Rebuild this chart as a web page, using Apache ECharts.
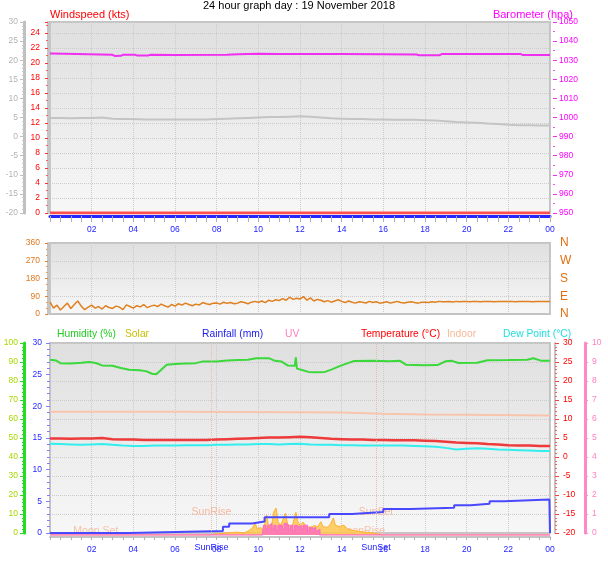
<!DOCTYPE html>
<html><head><meta charset="utf-8">
<script src="https://cdn.jsdelivr.net/npm/echarts@6/dist/echarts.min.js"></script>
<style>html,body{margin:0;padding:0;background:#fff}#c{width:608px;height:561px}</style>
</head><body><div id="c"></div>
<script>
// ---------- DATA ----------
const windSpeed = [0,0,0,0,0,0,0,0,0,0,0,0,0,0,0,0,0,0,0,0,0,0,0,0,0]; // hourly, kts
// outdoor temperature every 30 min (°C)
const temperature = [4.9,4.9,4.8,4.9,4.9,5.0,4.7,4.6,4.6,4.5,4.5,4.5,4.5,4.5,4.5,4.5,4.6,4.7,4.8,4.9,5.0,5.1,5.1,5.2,5.3,5.2,5.0,4.8,4.7,4.6,4.6,4.5,4.5,4.4,4.4,4.4,4.3,4.2,4.0,3.8,3.7,3.6,3.4,3.3,3.1,3.0,3.0,2.9,2.9];
// dew point every 30 min (°C)
const dewPoint = [3.5,3.4,3.3,3.2,3.3,3.4,3.2,3.0,2.9,2.9,3.0,3.0,3.0,3.1,3.1,3.1,3.2,3.2,3.3,3.3,3.4,3.4,3.3,3.4,3.5,3.3,3.2,3.2,3.1,3.1,3.0,3.0,3.0,3.0,3.0,2.9,2.8,2.7,2.4,2.0,2.2,2.3,2.2,2.0,1.9,1.8,1.7,1.6,1.6];
// barometer [hour, hPa]
const barometer = [[0,1033.5],[0.7,1033.4],[0.75,1032.8],[3.0,1032.8],[3.1,1032.2],[3.4,1032.3],[3.5,1032.8],[4.1,1032.8],[4.2,1032.4],[4.7,1032.4],[4.8,1032.8],[6,1032.7],[8.5,1032.8],[9,1033.1],[10,1033.4],[11,1033.3],[12,1033.2],[14,1033.2],[16,1033.1],[17.6,1033.0],[17.7,1032.6],[18.7,1032.6],[18.8,1033.2],[22.6,1033.2],[22.7,1032.7],[24,1032.7]];
// wind direction every 10 min (degrees)
const windDir = [
 62,30,45,20,38,55, 28,48,66,40,22,35, 45,30,38,25,42,33, 28,40,35,22,46,38,
 30,42,36,48,32,40, 45,38,50,42,35,48, 40,52,45,55,48,42, 50,46,58,52,48,55,
 56,50,60,54,58,52, 55,62,58,52,60,64, 60,66,58,70,64,72, 68,78,70,85,74,80,
 76,88,70,82,66,74, 70,62,68,60,66,72, 64,58,66,60,55,62, 60,56,64,58,62,55,
 58,62,55,60,64,58, 56,60,62,58,55,60, 60,58,62,60,64,62, 62,63,61,64,62,63,
 63,62,64,63,62,63, 64,63,62,63,64,63, 63,64,62,63,63,64, 63,62,63,64,63,63, 63];
// humidity [hour, %]
const humidity = [[0,91.2],[0.3,90.8],[0.5,89.4],[1,89.2],[1.5,89.6],[1.9,90.0],[2.2,89.5],[2.5,88.2],[3,88.0],[3.4,86.8],[3.8,85.9],[4.3,85.6],[4.6,85.2],[4.9,83.8],[5.1,83.6],[5.3,85.5],[5.6,88.6],[6,89.0],[6.5,89.2],[7,89.4],[7.3,90.2],[8,90.3],[8.5,90.8],[9,91.0],[9.5,91.2],[9.9,92.0],[10.5,92.0],[10.8,90.6],[11.1,90.3],[11.4,88.2],[11.75,88.0],[11.8,92.5],[11.85,86.5],[12.1,85.8],[12.4,84.8],[12.8,84.6],[13.2,84.8],[13.5,86.0],[13.9,87.8],[14.3,89.4],[14.6,90.5],[15.5,90.6],[16.3,90.4],[16.8,90.6],[17.1,88.5],[18,88.3],[18.6,88.4],[19.0,90.4],[19.3,90.6],[19.6,89.5],[20.5,89.6],[21.0,90.9],[22,91.0],[22.9,91.2],[23.2,92.0],[23.6,90.6],[24,90.6]];
// rainfall accumulation [hour, mm]
const rainfall = [[0,0],[3.8,0.3],[8.3,1.0],[8.6,1.5],[9.7,1.8],[10.3,2.5],[13.4,3.0],[14.5,3.3],[16.0,3.8],[17.3,4.0],[19.4,4.4],[20.2,4.6],[21.1,5.0],[21.8,5.3],[23.97,5.3],[24,0]];
// indoor temperature [hour, °C]
const indoor = [[0,11.9],[6,11.9],[12,11.8],[14,11.7],[16,11.4],[18,11.2],[20,11.1],[24,10.9]];
// solar radiation [hour, W/m2]
const solar = [[0,0],[7.7,0],[7.9,5],[8.3,8],[8.6,12],[9.0,15],[9.3,10],[9.5,20],[9.7,35],[9.85,62],[9.95,30],[10.1,40],[10.25,25],[10.4,105],[10.5,40],[10.65,60],[10.75,125],[10.85,142],[10.95,70],[11.05,50],[11.15,72],[11.3,115],[11.4,60],[11.55,45],[11.65,55],[11.8,120],[11.9,70],[12.0,50],[12.15,68],[12.3,45],[12.5,40],[12.7,50],[12.85,42],[13.0,70],[13.1,45],[13.3,40],[13.45,55],[13.6,90],[13.7,50],[13.9,45],[14.1,52],[14.3,30],[14.5,25],[14.8,20],[15.1,15],[15.4,12],[15.7,6],[15.9,0],[24,0]];
// UV index [hour, index]
const uv = [[0,0],[10.2,0],[10.25,0.5],[10.35,0.3],[10.45,0.5],[10.55,0.6],[10.65,0.3],[10.75,0.5],[10.85,0.2],[10.95,0.5],[11.05,0.5],[11.15,0.3],[11.25,0.6],[11.35,0.5],[11.45,0.3],[11.55,0.5],[11.65,0.2],[11.75,0.5],[11.85,0.4],[11.95,0.5],[12.05,0.3],[12.15,0.5],[12.25,0.5],[12.35,0.2],[12.45,0.4],[12.55,0.3],[12.65,0.4],[12.75,0.2],[12.85,0.3],[12.95,0],[24,0]];
// sun & moon events (hour)
const sunEvents = [['SunRise',7.75],['SunSet',15.65]];
const moonEvents = [['Moon Set',2.2],['MoonRise',14.95]];
const compassLabels = {0:'N',90:'E',180:'S',270:'W',360:'N'};

// ---------- BUILD ----------
const half = (arr) => arr.map((v,i)=>[i*0.5, v]);
const hourly = (arr) => arr.map((v,i)=>[i, v]);
const tenMin = (arr) => arr.map((v,i)=>[i/6, v]);
const F = '"Liberation Sans", Arial, sans-serif';
const chart = echarts.init(document.getElementById('c'), null, {renderer:'canvas'});
const bg = () => new echarts.graphic.LinearGradient(0,0,0,1,[{offset:0,color:'#dfdfdf'},{offset:1,color:'#f7f7f7'}]);
const dotted = {show:true, lineStyle:{type:'dotted', color:'#cbcbcb', width:1}};
const xFmt = v => v===0 ? '' : (v===24 ? '00' : String(v).padStart(2,'0'));
const plain = v => String(v);
const xBase = (gi, extra) => Object.assign({
  type:'value', gridIndex:gi, min:0, max:24, interval:2,
  axisLine:{show:true, onZero:false, lineStyle:{color:'#c4c4c4', width:2}},
  axisTick:{show:true, length:3, lineStyle:{color:'#b0b0b0'}},
  minorTick:{show:true, splitNumber:4, length:3, lineStyle:{color:'#b0b0b0'}},
  axisLabel:{show:true, color:'#2222ff', fontSize:8.5, fontFamily:F, formatter:xFmt, margin:8},
  splitLine:dotted
}, extra);
const yAx = (o) => Object.assign({
  type:'value', splitLine:{show:false},
  axisLabel:{fontSize:8.5, fontFamily:F}
}, o);

const option = {
  animation:false,
  grid:[
    {left:50, top:22, width:500, height:191, show:true, backgroundColor:bg(), borderColor:'#c4c4c4', borderWidth:2},
    {left:50, top:243, width:500, height:71, show:true, backgroundColor:bg(), borderColor:'#c4c4c4', borderWidth:2},
    {left:50, top:343, width:500, height:190, show:true, backgroundColor:bg(), borderColor:'#c4c4c4', borderWidth:2},
    {left:50, top:345, width:500, height:190, show:false}
  ],
  xAxis:[
    xBase(0, {offset:3, axisLine:{show:true, onZero:false, lineStyle:{color:'#2626ff', width:3}},
      axisTick:{show:true, length:6, lineStyle:{color:'#b0b0b0'}},
      minorTick:{show:true, splitNumber:4, length:6, lineStyle:{color:'#b0b0b0'}},
      axisLabel:{show:true, color:'#2222ff', fontSize:8.5, fontFamily:F, formatter:xFmt, margin:9}}),
    xBase(1, {axisTick:{show:false}, minorTick:{show:false}, axisLabel:{show:false}}),
    xBase(2, {offset:4, axisLabel:{show:true, color:'#2222ff', fontSize:8.5, fontFamily:F, formatter:xFmt, margin:8}}),
    {type:'value', gridIndex:3, min:0, max:24, show:false}
  ],
  yAxis:[
    // 0 top gray temperature scale
    yAx({gridIndex:0, position:'left', offset:26, min:-20, max:30, interval:5,
      axisLine:{show:true, onZero:false, lineStyle:{color:'#c0c0c0', width:3}},
      axisTick:{show:true, length:4, lineStyle:{color:'#c0c0c0'}},
      minorTick:{show:true, splitNumber:5, length:2, lineStyle:{color:'#c8c8c8'}},
      axisLabel:{color:'#b4b4b4', fontSize:8.5, fontFamily:F, margin:6, formatter:plain}}),
    // 1 windspeed
    yAx({gridIndex:0, position:'left', offset:2, min:0, max:25.47, interval:2,
      axisLine:{show:true, onZero:false, lineStyle:{color:'#c4c4c4', width:2}},
      axisTick:{show:true, length:3, lineStyle:{color:'#ff3030'}},
      minorTick:{show:true, splitNumber:2, length:2, lineStyle:{color:'#ff6060'}},
      axisLabel:{color:'#ff0000', fontSize:8.5, fontFamily:F, margin:8, showMaxLabel:false, formatter:plain},
      splitLine:dotted}),
    // 2 barometer
    yAx({gridIndex:0, position:'right', offset:3, min:950, max:1050, interval:10,
      axisLine:{show:false, onZero:false},
      axisTick:{show:true, length:4, lineStyle:{color:'#ee33ee'}},
      minorTick:{show:true, splitNumber:2, length:2, lineStyle:{color:'#ee55ee'}},
      axisLabel:{color:'#ff00ff', fontSize:8.5, fontFamily:F, margin:6, formatter:plain}}),
    // 3 wind direction degrees
    yAx({gridIndex:1, position:'left', offset:2, min:0, max:360, interval:90,
      axisLine:{show:true, onZero:false, lineStyle:{color:'#c4c4c4', width:2}},
      axisTick:{show:true, length:3, lineStyle:{color:'#e08030'}},
      minorTick:{show:true, splitNumber:3, length:2, lineStyle:{color:'#e8a060'}},
      axisLabel:{color:'#e07820', fontSize:8.5, fontFamily:F, margin:8, formatter:plain},
      splitLine:dotted}),
    // 4 compass letters
    yAx({gridIndex:1, position:'right', offset:8, min:0, max:360, interval:90,
      axisLine:{show:false, onZero:false}, axisTick:{show:false},
      axisLabel:{color:'#e07010', fontSize:12, fontFamily:F, margin:2, formatter:v=>compassLabels[v]||''}}),
    // 5 rainfall
    yAx({gridIndex:2, position:'left', offset:0, min:0, max:30, interval:5,
      axisLine:{show:true, onZero:false, lineStyle:{color:'#c4c4c4', width:2}},
      axisTick:{show:true, length:4, lineStyle:{color:'#8080ff'}},
      minorTick:{show:true, splitNumber:5, length:3, lineStyle:{color:'#8080ff'}},
      axisLabel:{color:'#2828ff', fontSize:8.5, fontFamily:F, margin:8, formatter:plain}}),
    // 6 humidity
    yAx({gridIndex:2, position:'left', offset:26, min:0, max:100, interval:10,
      axisLine:{show:true, onZero:false, lineStyle:{color:'#22dd22', width:3}},
      axisTick:{show:true, length:4, lineStyle:{color:'#22dd22'}},
      minorTick:{show:true, splitNumber:5, length:2, lineStyle:{color:'#22dd22'}},
      axisLabel:{color:'#a8d800', fontSize:8.5, fontFamily:F, margin:6, formatter:plain}}),
    // 7 temperature
    yAx({gridIndex:2, position:'right', offset:5, min:-20, max:30, interval:5,
      axisLine:{show:true, onZero:false, lineStyle:{color:'#c4c4c4', width:2}},
      axisTick:{show:true, length:4, lineStyle:{color:'#ff4040'}},
      minorTick:{show:true, splitNumber:5, length:2, lineStyle:{color:'#ff6060'}},
      axisLabel:{color:'#ff0000', fontSize:8.5, fontFamily:F, margin:8, formatter:plain},
      splitLine:dotted}),
    // 8 UV
    yAx({gridIndex:2, position:'right', offset:35, min:0, max:10, interval:1,
      axisLine:{show:true, onZero:false, lineStyle:{color:'#ff88c8', width:3}},
      axisTick:{show:true, length:3, lineStyle:{color:'#ff88c8'}},
      axisLabel:{color:'#ff80c0', fontSize:8.5, fontFamily:F, margin:7, formatter:plain}}),
    // 9 solar hidden
    {type:'value', gridIndex:3, min:0, max:1000, show:false},
    // 10 uv hidden
    {type:'value', gridIndex:3, min:0, max:10, show:false}
  ],
  series:[
    {type:'line', xAxisIndex:0, yAxisIndex:0, data:half(temperature), symbol:'none', lineStyle:{color:'#c4c4c4', width:2}},
    {type:'line', xAxisIndex:0, yAxisIndex:2, data:barometer, symbol:'none', lineStyle:{color:'#f030f0', width:2}},
    {type:'line', xAxisIndex:0, yAxisIndex:1, data:hourly(windSpeed), symbol:'none', lineStyle:{color:'#ff5050', width:3}, z:5},
    {type:'line', xAxisIndex:1, yAxisIndex:3, data:tenMin(windDir), symbol:'none', lineStyle:{color:'#e08020', width:1.5}},
    {type:'line', xAxisIndex:3, yAxisIndex:9, data:solar, symbol:'none', lineStyle:{color:'#ffb030', width:1},
      areaStyle:{color:'#ffc850', opacity:0.85}, z:3},
    {type:'line', xAxisIndex:3, yAxisIndex:10, data:uv, symbol:'none', step:'end', lineStyle:{color:'#ff70c0', width:1.5},
      areaStyle:{color:'#ff70c0', opacity:0.85}, z:3},
    {type:'line', xAxisIndex:2, yAxisIndex:7, data:indoor, symbol:'none', lineStyle:{color:'#f8c4ac', width:2}},
    {type:'line', xAxisIndex:2, yAxisIndex:5, data:rainfall, symbol:'none', step:'end', lineStyle:{color:'#4848ff', width:2}, z:4,
      markLine:{silent:true, symbol:'none', label:{show:false}, lineStyle:{type:'dotted', color:'#e0c0b0', width:1},
        data:sunEvents.map(e=>({xAxis:e[1]}))}},
    {type:'line', xAxisIndex:2, yAxisIndex:7, data:half(dewPoint), symbol:'none', lineStyle:{color:'#33eeee', width:2}},
    {type:'line', xAxisIndex:2, yAxisIndex:7, data:half(temperature), symbol:'none', lineStyle:{color:'#ee3a3a', width:2.5}},
    {type:'line', xAxisIndex:2, yAxisIndex:6, data:humidity, symbol:'none', lineStyle:{color:'#3ad83a', width:2}}
  ]
};
chart.setOption(option);

const txt = (text, x, y, fill, size, align, z) => ({type:'text', z: z||100, style:{text, x, y, fill, font: (size||11)+'px '+F, align: align||'left', verticalAlign:'middle'}});
const g = [
  txt('24 hour graph day : 19 November 2018', 299, 6, '#000000', 11, 'center'),
  txt('Windspeed (kts)', 50, 15, '#ff0000', 11),
  txt('Barometer (hpa)', 573, 15, '#ff00ff', 11, 'right'),
  txt('Humidity (%)', 57, 334, '#22cc22', 10.3),
  txt('Solar', 125, 334, '#c8c000', 10.3),
  txt('Rainfall (mm)', 202, 334, '#1a1aee', 10.3),
  txt('UV', 285, 334, '#ff80c0', 10.3),
  txt('Temperature (°C)', 361, 334, '#ff0000', 10.3),
  txt('Indoor', 447, 334, '#f8b898', 10.3),
  txt('Dew Point (°C)', 503, 334, '#22e0e0', 10.3)
];
sunEvents.forEach(e => {
  const p = chart.convertToPixel({gridIndex:2}, [e[1], 0]);
  const pTop = chart.convertToPixel({gridIndex:2}, [e[1], 3.3]);
  g.push(txt(e[0], p[0], pTop[1], '#f4b8a0', 10.5, 'center', 1));
  g.push(txt(e[0], p[0], 548, '#2222ff', 9, 'center', 1));
});
moonEvents.forEach(e => {
  const p = chart.convertToPixel({gridIndex:2}, [e[1], 0]);
  g.push(txt(e[0], p[0], p[1] - 2, '#f4c0a8', 10.5, 'center', 1));
});
chart.setOption({graphic: g});
</script></body></html>
